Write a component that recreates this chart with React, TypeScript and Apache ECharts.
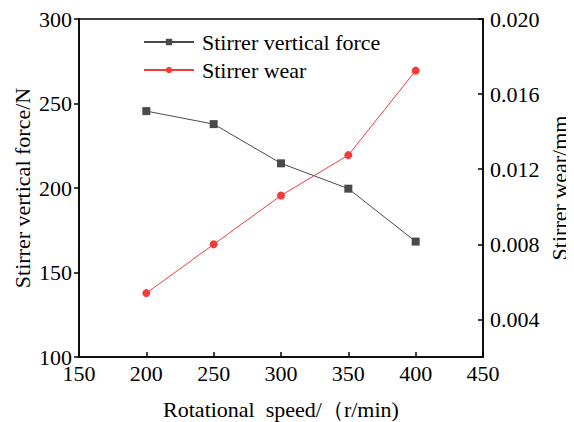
import React, { useEffect, useRef } from "react";
import * as echarts from "echarts";

// Rotational speed (r/min)
const speeds = [200, 250, 300, 350, 400];
// Stirrer vertical force (N)
const verticalForce = [245.5, 237.8, 214.6, 199.6, 168.3];
// Stirrer wear (mm)
const wear = [0.0054, 0.008, 0.0106, 0.01275, 0.01725];
// Right-axis labelled ticks
const wearTicks = [0.004, 0.008, 0.012, 0.016, 0.02];

const FONT = "Liberation Serif";

export default function App() {
  const ref = useRef<HTMLDivElement>(null);

  useEffect(() => {
    if (!ref.current) return;
    const chart = echarts.init(ref.current, undefined, { renderer: "svg" });
    chart.setOption({
      animation: false,
      backgroundColor: "#fff",
      textStyle: { fontFamily: FONT },
      grid: {
        left: 79,
        right: 91,
        top: 19,
        bottom: 65,
        outerBoundsMode: "none",
        show: true,
        borderColor: "#000",
        borderWidth: 1.5,
      },
      legend: {
        orient: "vertical",
        left: 138,
        top: 26,
        itemWidth: 50,
        itemHeight: 8,
        itemGap: 6,
        textStyle: { fontFamily: FONT, fontSize: 22, color: "#000", padding: [0, 0, 0, 3] },
        data: ["Stirrer vertical force", "Stirrer wear"],
      },
      xAxis: {
        type: "value",
        min: 150,
        max: 450,
        interval: 50,
        name: "Rotational  speed/（r/min)",
        nameLocation: "middle",
        nameGap: 41,
        nameMoveOverlap: false,
        nameTextStyle: { fontFamily: FONT, fontSize: 22, color: "#000" },
        axisLine: { lineStyle: { color: "#000", width: 1.5 } },
        axisTick: { inside: true, length: 5, lineStyle: { color: "#000", width: 1.5 } },
        axisLabel: { fontFamily: FONT, fontSize: 22, color: "#000", margin: 5 },
        splitLine: { show: false },
      },
      yAxis: [
        {
          type: "value",
          min: 100,
          max: 300,
          interval: 50,
          position: "left",
          name: "Stirrer vertical force/N",
          nameLocation: "middle",
          nameRotate: 90,
          nameGap: 46,
          nameMoveOverlap: false,
          nameTextStyle: { fontFamily: FONT, fontSize: 22, color: "#000" },
          axisLine: { show: true, lineStyle: { color: "#000", width: 1.5 } },
          axisTick: { show: true, inside: false, length: 5, lineStyle: { color: "#000", width: 1.5 } },
          axisLabel: { fontFamily: FONT, fontSize: 22, color: "#000", margin: 7 },
          splitLine: { show: false },
        },
        {
          type: "value",
          min: 0.002,
          max: 0.02,
          interval: 0.002,
          position: "right",
          name: "Stirrer wear/mm",
          nameLocation: "middle",
          nameRotate: 90,
          nameGap: 65,
          nameMoveOverlap: false,
          nameTextStyle: { fontFamily: FONT, fontSize: 22, color: "#000" },
          axisLine: { show: true, lineStyle: { color: "#000", width: 1.5 } },
          axisTick: {
            show: true,
            inside: true,
            length: 5,
            customValues: wearTicks,
            lineStyle: { color: "#000", width: 1.5 },
          },
          axisLabel: {
            fontFamily: FONT,
            fontSize: 22,
            color: "#000",
            margin: 7,
            customValues: wearTicks,
            formatter: (v: number) => v.toFixed(3),
          },
          splitLine: { show: false },
        },
      ],
      series: [
        {
          name: "Stirrer vertical force",
          type: "line",
          yAxisIndex: 0,
          data: speeds.map((s, i) => [s, verticalForce[i]]),
          symbol: "rect",
          symbolSize: 8,
          itemStyle: { color: "#4a4a4a" },
          lineStyle: { color: "#4a4a4a", width: 1 },
        },
        {
          name: "Stirrer wear",
          type: "line",
          yAxisIndex: 1,
          data: speeds.map((s, i) => [s, wear[i]]),
          symbol: "circle",
          symbolSize: 8,
          itemStyle: { color: "#f23c3c" },
          lineStyle: { color: "#f23c3c", width: 1 },
        },
      ],
    });
    return () => chart.dispose();
  }, []);

  return <div ref={ref} style={{ width: 574, height: 422, marginLeft: -8, marginTop: -8 }} />;
}
